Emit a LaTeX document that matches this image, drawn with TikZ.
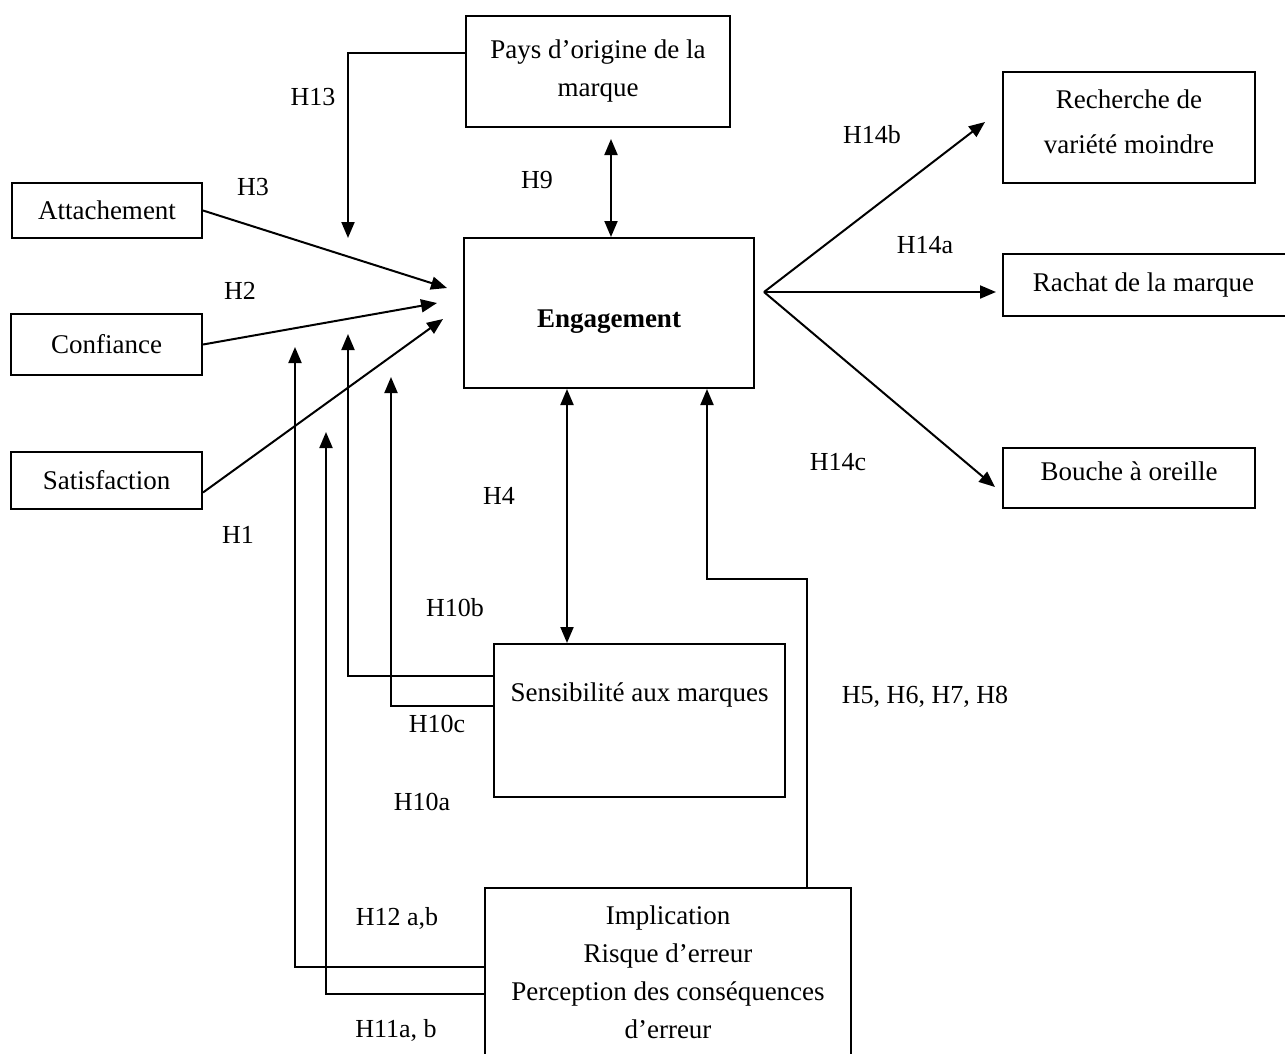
\documentclass[tikz,border=0pt]{standalone}
\usepackage{fontspec}
\setmainfont{Liberation Serif}
\usetikzlibrary{arrows.meta}

\begin{document}
\begin{tikzpicture}[x=1pt,y=-1pt,
  box/.style={draw, line width=2pt, inner sep=0pt, align=center,
              font=\fontsize{27}{38}\selectfont},
  txt/.style={inner sep=0pt, align=center, font=\fontsize{27}{38}\selectfont},
  lbl/.style={inner sep=0pt, font=\fontsize{26}{30}\selectfont},
  conn/.style={line width=2pt, -{Triangle[length=16pt,width=13pt]}},
  both/.style={line width=2pt, {Triangle[length=16pt,width=13pt]}-{Triangle[length=16pt,width=13pt]}},
  plain/.style={line width=2pt}]
\clip (0,0) rectangle (1285,1053);
\fill[white] (0,0) rectangle (1285,1053);

% boxes
\node[box, minimum width=264pt, minimum height=111pt] (pays) at (598,71.5)
  {Pays d'origine de la\\marque};
\node[box, minimum width=290pt, minimum height=150pt] (eng) at (609,313) {};
\node[txt, font=\fontsize{27}{30}\selectfont\bfseries] (engtxt) at (609,322) {Engagement};
\node[box, minimum width=190pt, minimum height=55pt] (att) at (107,210.5) {Attachement};
\node[box, minimum width=191pt, minimum height=61pt] (conf) at (106.5,344.5) {Confiance};
\node[box, minimum width=191pt, minimum height=57pt] (sat) at (106.5,480.5) {Satisfaction};
\node[box, minimum width=291pt, minimum height=153pt] (sens) at (639.5,720.5) {};
\node[txt] (senstxt) at (639.5,695) {Sensibilité aux marques};
\node[box, minimum width=366pt, minimum height=168pt] (impl) at (668,972)
  {Implication\\Risque d'erreur\\Perception des conséquences\\d'erreur};
\node[box, minimum width=252pt, minimum height=111pt] (rech) at (1129,127.5) {};
\node[txt, font=\fontsize{27}{45}\selectfont] (rechtxt) at (1129,122)
  {Recherche de\\variété moindre};
\node[box, minimum width=287pt, minimum height=62pt] (rach) at (1146.5,285)
  {\hspace*{-6pt}Rachat de la marque};
\node[box, minimum width=252pt, minimum height=60pt] (bouche) at (1129,478) {};
\node[txt] (bouchetxt) at (1129,471) {Bouche à oreille};

% free ends of the connectors
\coordinate (t13) at (348,238);
\coordinate (tatt) at (447,288);
\coordinate (tconf) at (437,303);
\coordinate (tsat) at (443,319);
\coordinate (t10b) at (348,334);
\coordinate (t10c) at (391,377);
\coordinate (t12) at (295,347);
\coordinate (t11) at (326,432);
\coordinate (fork) at (764,292);
\coordinate (trech) at (985,122);
\coordinate (trach) at (996,292);
\coordinate (tbouche) at (995,487);

% connectors
\draw[conn] ([yshift=18.5pt]pays.west) -| (t13);
\draw[conn] (att.east) -- (tatt);
\draw[conn] (conf.east) -- (tconf);
\draw[conn] ([yshift=-12pt]sat.east) -- (tsat);
\draw[both, shorten <=11pt] ([xshift=13pt]pays.south) -- ([xshift=13pt]pays.south |- eng.north);
\draw[both] ([xshift=-42pt]eng.south) -- ([xshift=-42pt]eng.south |- sens.north);
\draw[conn] ([yshift=44.5pt]sens.west) -| (t10b);
\draw[conn] ([yshift=14.5pt]sens.west) -| (t10c);
\draw[conn] ([yshift=5pt]impl.west) -| (t12);
\draw[conn] ([yshift=-22pt]impl.west) -| (t11);
\draw[conn] ([xshift=139pt]impl.north) -- ++(0,-308) -| ([xshift=98pt]eng.south);
\draw[conn] (fork) -- (trech);
\draw[conn] (fork) -- (trach);
\draw[conn] (fork) -- (tbouche);

% hypothesis labels
\node[lbl] (h13) at (313,97) {H13};
\node[lbl] (h3) at (253,187) {H3};
\node[lbl] (h2) at (240,291) {H2};
\node[lbl] (h1) at (238,535) {H1};
\node[lbl] (h9) at (537,180) {H9};
\node[lbl] (h4) at (499,496) {H4};
\node[lbl] (h10b) at (455,608) {H10b};
\node[lbl] (h10c) at (437,724) {H10c};
\node[lbl] (h10a) at (422,802) {H10a};
\node[lbl] (h12) at (397,918) {H12 a,b};
\node[lbl] (h11) at (396,1030) {H11a, b};
\node[lbl] (h14b) at (872,135) {H14b};
\node[lbl] (h14a) at (925,245) {H14a};
\node[lbl] (h14c) at (838,462) {H14c};
\node[lbl] (h58) at (925,697) {H5, H6, H7, H8};
\end{tikzpicture}
\end{document}
